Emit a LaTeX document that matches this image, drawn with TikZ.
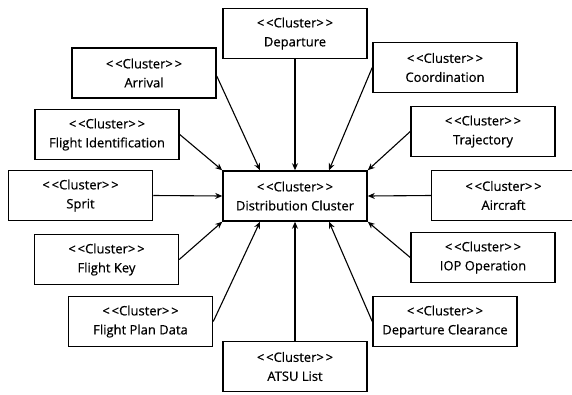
\documentclass[tikz,border=0pt]{standalone}
\usepackage{fontspec}
\setmainfont{Open Sans}[FakeBold=0.6]
\usetikzlibrary{arrows.meta}
\newcommand\clusterlabel{<\kern1.8pt<Cluster>\kern1.8pt>}
\begin{document}
\begin{tikzpicture}[x=1pt,y=-1pt,
  cluster/.style={draw, line width=1.5pt, minimum width=144pt, minimum height=50pt,
    inner sep=0pt, align=center, font=\fontsize{13}{19}\selectfont},
  link/.style={-{Stealth[length=7pt,width=6pt]}, line width=1.1pt}]
\useasboundingbox (0,0) rectangle (572,394);
% central cluster
\node[cluster] (dist)  at (295,196)   {\clusterlabel\\Distribution Cluster};
% surrounding clusters
\node[cluster] (dep)   at (295,33.5)  {\clusterlabel\\Departure};
\node[cluster] (arr)   at (144,73)    {\clusterlabel\\Arrival};
\node[cluster] (fid)   at (107,134.5) {\clusterlabel\\Flight Identification};
\node[cluster] (sprit) at (80.5,195.5){\clusterlabel\\Sprit};
\node[cluster] (fkey)  at (106.5,259.5){\clusterlabel\\Flight Key};
\node[cluster] (fpd)   at (140.5,321.5){\clusterlabel\\Flight Plan Data};
\node[cluster] (atsu)  at (295,366.5) {\clusterlabel\\ATSU List};
\node[cluster] (dclr)  at (445,321.5) {\clusterlabel\\Departure Clearance};
\node[cluster] (iop)   at (483,257.5) {\clusterlabel\\IOP Operation};
\node[cluster] (acft)  at (503.5,195.5){\clusterlabel\\Aircraft};
\node[cluster] (traj)  at (483,131.5) {\clusterlabel\\Trajectory};
\node[cluster] (coord) at (445,67.5)  {\clusterlabel\\Coordination};
% connectors into the central cluster
\draw[link] (dep.south) -- (dist.north);
\draw[link] ([yshift=-3pt]arr.east) -- ([xshift=-35pt]dist.north);
\draw[link] (fid.east) -- (dist.north west);
\draw[link] (sprit.east) -- (dist.west);
\draw[link] (fkey.east) -- (dist.south west);
\draw[link] (fpd.east) -- ([xshift=-35pt]dist.south);
\draw[link] (atsu.north) -- (dist.south);
\draw[link] (dclr.west) -- ([xshift=34pt]dist.south);
\draw[link] (iop.west) -- (dist.south east);
\draw[link] (acft.west) -- (dist.east);
\draw[link] (traj.west) -- (dist.north east);
\draw[link] (coord.west) -- ([xshift=34pt]dist.north);
\end{tikzpicture}
\end{document}
